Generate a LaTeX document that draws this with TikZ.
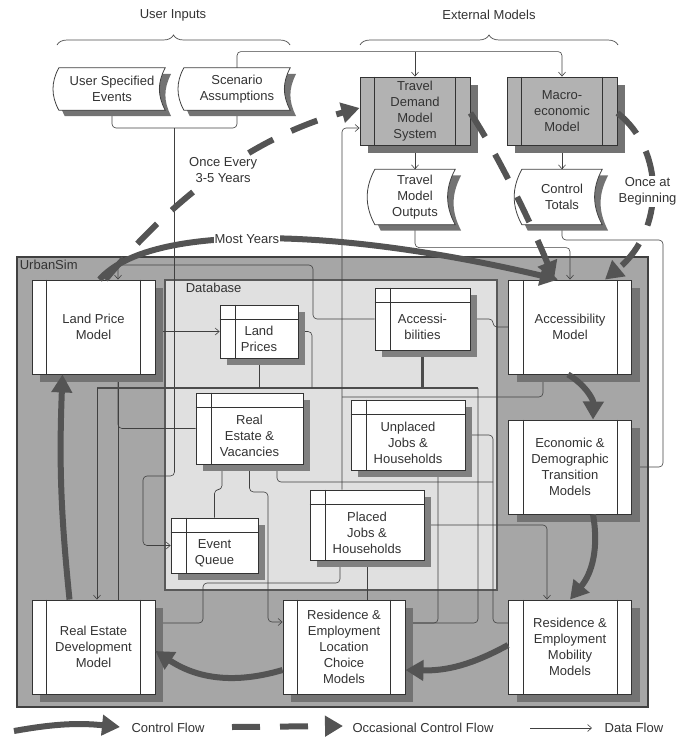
\documentclass[tikz,border=0pt]{standalone}
\usepackage{fontspec}
\setmainfont{Liberation Sans}
\usepackage{tikz}
\usetikzlibrary{positioning,arrows.meta,shadows,decorations.pathreplacing}
\pgfdeclarelayer{bg}
\pgfdeclarelayer{wires}
\pgfdeclarelayer{front}
\pgfsetlayers{bg,wires,main,front}

\begin{document}
\begin{tikzpicture}[x=1pt,y=1pt,on grid,
  every node/.style={font=\fontsize{13}{16}\selectfont, text=black!80},
  model/.style={draw=black!80, fill=white, line width=0.9pt, minimum width=123pt, minimum height=94pt, align=center, inner sep=0pt, drop shadow={shadow xshift=8pt, shadow yshift=-8pt, fill=black!55, opacity=1}},
  extmodel/.style={model, fill=black!30, minimum width=110pt, minimum height=68pt},
  dbtable/.style={draw=black!80, fill=white, line width=0.8pt, inner sep=0pt, drop shadow={shadow xshift=7pt, shadow yshift=-7pt, fill=black!50, opacity=1}},
  tabtext/.style={yshift=-7.5pt, align=center, inner sep=0pt},
  doc/.style={align=center, minimum width=106pt, minimum height=42pt, inner sep=0pt},
  flow/.style={draw=black!75, line width=0.6pt, rounded corners=4pt, -{Straight Barb[length=4pt,width=7pt]}},
  link/.style={draw=black!75, line width=0.6pt, rounded corners=4pt},
  bus/.style={draw=black!70, line width=2.2pt, rounded corners=4pt},
  ctrl/.style={color=black!67, line width=6pt, -{Triangle[length=18pt,width=20pt]}},
  occasional/.style={ctrl, dash pattern=on 28pt off 20pt},
  grouping/.style={draw=black!70, line width=0.7pt, decorate, decoration={brace, amplitude=10pt}}]
\useasboundingbox (0,0) rectangle (680,-739);

\begin{pgfonlayer}{bg}
\node[draw=black!75, fill=black!35, line width=1.4pt, minimum width=631pt, minimum height=450pt, inner sep=0pt] (usim) at (332.5,-482) {};
\node[draw=black!65, fill=black!12, line width=1.4pt, minimum width=332pt, minimum height=310pt, inner sep=0pt] (dbase) at (331,-435) {};
\end{pgfonlayer}
\node[anchor=north west] (usl) at (usim.north west) {UrbanSim};
\node[anchor=north west] (dbl) at ([xshift=18pt]dbase.north west) {Database};

\node (uit) at (173,-15) {User Inputs};
\node (emt) at (489,-15) {External Models};
\draw[grouping] (57,-45) -- (290,-45);
\draw[grouping] (360,-45) -- (618,-45);

\node[doc] (usr) at (112,-89) {User Specified\\Events};
\node[doc] (scn) at (237,-89) {Scenario\\Assumptions};
\node[extmodel] (tdm) at (415,-111) {Travel\\Demand\\Model\\System};
\node[extmodel] (mac) [right=147pt of tdm] {Macro-\\economic\\Model};
\node[doc, minimum width=80pt, minimum height=55pt] (tmo) [below=86pt of tdm] {Travel\\Model\\Outputs};
\node[doc, minimum width=80pt, minimum height=55pt] (ctl) [below=86pt of mac] {Control\\Totals};

\node[model] (acm) at (570,-327) {Accessibility\\Model};
\node[model] (edt) [below=140pt of acm] {Economic \&\\Demographic\\Transition\\Models};
\node[model] (mob) [below=180pt of edt] {Residence \&\\Employment\\Mobility\\Models};
\node[model, minimum width=122pt] (lcm) [left=226pt of mob] {Residence \&\\Employment\\Location\\Choice\\Models};
\node[model] (red) [left=250.5pt of lcm] {Real Estate\\Development\\Model};
\node[model] (lpm) [above=320pt of red] {Land Price\\Model};

\node[dbtable, minimum width=78pt, minimum height=53pt, label={[tabtext]center:Land\\Prices}] (lpr) at (259,-331.5) {};
\node[dbtable, minimum width=95pt, minimum height=62pt, label={[tabtext]center:Accessi-\\bilities}] (acc) at (422.5,-319) {};
\node[dbtable, minimum width=107pt, minimum height=71pt, label={[tabtext]center:Real\\Estate \&\\Vacancies}] (rev) at (249.5,-428.5) {};
\node[dbtable, minimum width=114pt, minimum height=70pt, label={[tabtext]center:Unplaced\\Jobs \&\\Households}] (ujh) at (408,-435) {};
\node[dbtable, minimum width=114pt, minimum height=70pt, label={[tabtext]center:Placed\\Jobs \&\\Households}] (pjh) at (367,-525) {};
\node[dbtable, minimum width=87pt, minimum height=55pt, label={[tabtext]center:Event\\Queue}] (evq) at (214.5,-545.5) {};

\foreach \n in {lpm,acm,edt,mob,lcm,red,tdm,mac}
  \draw[black!80, line width=0.7pt] ([xshift=15pt]\n.north west) -- ([xshift=15pt]\n.south west)
    ([xshift=-15pt]\n.north east) -- ([xshift=-15pt]\n.south east);
\foreach \n in {lpr,acc,rev,ujh,pjh,evq}
  \draw[black!80, line width=0.7pt] ([yshift=-15pt]\n.north west) -- ([yshift=-15pt]\n.north east)
    ([xshift=16pt]\n.north west) -- ([xshift=16pt]\n.south west);

\coordinate (uinp) at (174.5,-128);
\coordinate (busl) at (97,-388);
\coordinate (busr) at (478,-388);
\coordinate (bust) at (422.5,-388);
\coordinate (tap) at (342,-397);
\coordinate (mtap) at (493,-482);

\begin{pgfonlayer}{wires}
\draw[flow] (scn.north) |- ([yshift=25pt]mac.north) -- (mac.north);
\draw[flow] ([yshift=25pt]tdm.north) -- (tdm.north);
\draw[flow] (tdm.south) -- (tmo.north);
\draw[flow] (mac.south) -- (ctl.north);
\draw[flow] (tmo.south) |- ([yshift=32pt]acm.north) -- (acm.north);
\draw[flow] (ctl.south) |- (663,-240) |- (edt.east);
\draw[link] (usr.south) -- (112,-128) -- (237,-128) -- (scn.south);
\draw[flow] (uinp) |- (143,-476) |- (evq.west);
\draw[flow] (lpm.east |- lpr.west) -- (lpr.west);
\draw[flow] (acm.west) -- ++(-15,0) |- (acc.east);
\draw[flow] (acc.west) -| (313,-265) -| ([xshift=24.5pt]lpm.north);
\draw[flow] ([xshift=24.5pt]red.north) -- ([xshift=24.5pt]lpm.south);
\draw[flow] (rev.west) -| ([xshift=24.5pt]lpm.south);
\draw[bus] (acc.south) -- (bust) (busl) -- (busr);
\draw[flow] (busl) -- ([xshift=3.5pt]red.north);
\draw[flow] (busr) |- ([yshift=24pt]lcm.east);
\draw[link] (lpr.south) -- (lpr.south |- busl);
\draw[link] (lpr.east) -| (312,-388);
\draw[flow] (evq.north) -- ++(0,28) -| ([xshift=-27.5pt]rev.south);
\draw[flow] (rev.south) |- (268,-492) |- ([yshift=25pt]lcm.west);
\draw[flow] (lcm.north -| pjh.south) -- (pjh.south);
\draw[flow] ([xshift=-25pt]pjh.north) |- ([yshift=-17pt]tdm.west);
\draw[flow] (tap) -| ([xshift=-27pt]acm.south);
\draw[flow] ([yshift=24pt]mob.west) -| (493,-435) -- (ujh.east);
\draw[flow] (mtap) -| ([xshift=27.5pt]rev.south);
\draw[flow] (pjh.east) -| ([xshift=-23pt]mob.north);
\draw[flow] ([xshift=30pt]ujh.south) |- ([yshift=24pt]lcm.east);
\draw[flow] ([xshift=-27pt]pjh.south) |- (203,-583) |- ([yshift=24pt]red.east);
\foreach \n in {usr,scn,tmo,ctl} {
  \fill[black!55] ([shift={(6pt,-6pt)}]\n.north west) to[bend right=28] ([shift={(6pt,-6pt)}]\n.south west)
    -- ([shift={(6pt,-6pt)}]\n.south east) to[bend left=28] ([shift={(6pt,-6pt)}]\n.north east) -- cycle;
  \draw[black!75, fill=white, line width=0.8pt] (\n.north west) to[bend right=28] (\n.south west)
    -- (\n.south east) to[bend left=28] (\n.north east) -- cycle;
}
\end{pgfonlayer}

\begin{pgfonlayer}{front}
\draw[ctrl] ([xshift=6pt]lpm.north) .. controls (150,-222) and (340,-228) .. ([xshift=-12pt]acm.north)
  node[pos=0.46, fill=white, inner sep=1pt] (myl) {Most Years};
\draw[occasional] ([xshift=12pt]lpm.north) .. controls (180,-190) and (260,-135) .. ([yshift=3pt]tdm.west)
  node[pos=0.5, fill=white, align=center, inner sep=2pt] (oel) {Once Every\\3-5 Years};
\draw[occasional] ([yshift=-2pt]tdm.east) .. controls (495,-150) and (530,-220) .. ([xshift=-16pt]acm.north);
\draw[occasional] ([yshift=-2pt]mac.east) .. controls (665,-150) and (665,-230) .. ([xshift=35pt]acm.north)
  node[pos=0.5, xshift=-4pt, fill=white, align=center, inner sep=2pt] (obl) {Once at\\Beginning};
\path[ctrl]
  ([xshift=-2pt]acm.south) edge[bend left=30] ([xshift=23pt]edt.north)
  ([xshift=23pt]edt.south) edge[bend left=25] (mob.north)
  ([yshift=2pt]mob.west) edge[bend left=15] ([yshift=-23pt]lcm.east)
  ([yshift=-23pt]lcm.west) edge[bend left=25] ([yshift=-4pt]red.east)
  ([xshift=-24pt]red.north) edge[bend left=4] ([xshift=-31pt]lpm.south);

\coordinate (k1a) at (14,-731);
\coordinate (k1b) at (120,-727);
\coordinate (k2a) at (232,-727);
\coordinate (k2b) at (343,-726);
\coordinate (k3a) at (530,-728);
\coordinate (k3b) at (592,-728);
\draw[ctrl] (k1a) to[bend left=8] (k1b);
\draw[occasional] (k2a) -- (k2b);
\draw[flow] (k3a) -- (k3b);
\node (cfl) at (168,-728) {Control Flow};
\node (ocl) at (423,-728) {Occasional Control Flow};
\node (dfl) at (634,-728) {Data Flow};
\end{pgfonlayer}
\end{tikzpicture}
\end{document}
